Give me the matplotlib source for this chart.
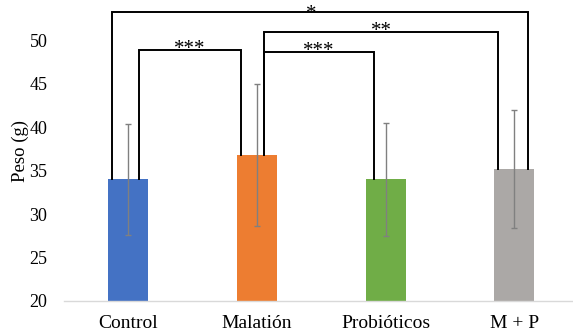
import numpy as np
import matplotlib.pyplot as plt

# group means and error
groups = ["Control", "Malatión", "Probióticos", "M + P"]
means = [34.0, 36.8, 34.0, 35.2]
errs = [6.4, 8.2, 6.5, 6.8]
colors = ["#4472c4", "#ed7d31", "#70ad47", "#aba8a6"]

# significance brackets: (left group, right group, height, label)
brackets = [
    (0, 1, 48.9, "***"),
    (1, 2, 48.7, "***"),
    (1, 3, 51.0, "**"),
    (0, 3, 53.3, "*"),
]
# horizontal offset of each bracket leg from the bar centre
leg_off = {(0, 1): (0.085, -0.124), (1, 2): (0.054, -0.093),
           (1, 3): (0.054, -0.124), (0, 3): (-0.124, 0.109)}
# baseline shift of the star text relative to the bracket line
star_dy = {(0, 1): -0.42, (1, 2): -0.42, (1, 3): -0.42, (0, 3): -0.8}

plt.rcParams['font.family'] = ['Liberation Serif', 'DejaVu Serif']

fig = plt.figure(figsize=(5.73, 3.35), dpi=100)
ax = fig.add_axes([0.1117, 0.1015, 0.8883, 0.894])

x = np.arange(len(groups))
ax.bar(x, means, width=0.31, color=colors, zorder=2)
ax.errorbar(x, means, yerr=errs, fmt="none", ecolor="#808080",
            elinewidth=1.0, capsize=2.5, capthick=1.0, zorder=3)

for i, j, h, lab in brackets:
    oi, oj = leg_off[(i, j)]
    xi, xj = x[i] + oi, x[j] + oj
    ax.plot([xi, xi, xj, xj], [means[i], h, h, means[j]], color="black",
            lw=1.4, zorder=4, clip_on=False, solid_joinstyle="miter")
    xm = (xi + xj) / 2 - (0.07 if lab == "*" else 0)
    ax.text(xm, h + star_dy[(i, j)], lab, ha="center", va="baseline",
            fontsize=15, clip_on=False, zorder=5)

ax.set_xlim(-0.5, 3.455)
ax.set_ylim(20, 54.5)
ax.set_yticks(np.arange(20, 51, 5))
ax.set_xticks(x)
ax.set_xticklabels(groups, fontsize=14)
ax.tick_params(axis="y", labelsize=13, length=0, pad=12)
ax.tick_params(axis="x", length=0, pad=10)
ax.set_ylabel("Peso (g)", fontsize=13.5, labelpad=0)

for s in ["top", "right", "left"]:
    ax.spines[s].set_visible(False)
ax.spines["bottom"].set_color("#d9d9d9")
ax.spines["bottom"].set_linewidth(1.0)

fig.savefig("out.png", dpi=100)
